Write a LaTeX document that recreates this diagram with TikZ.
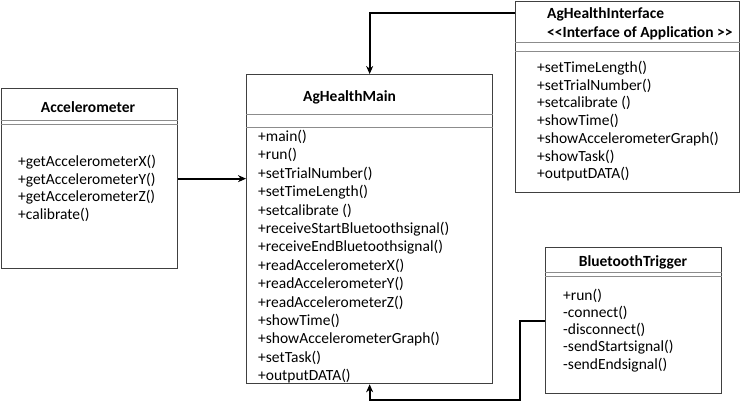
\documentclass[tikz,border=0pt]{standalone}
\usepackage{fontspec}
\setmainfont{Carlito}
\usetikzlibrary{arrows.meta}

\definecolor{boxgray}{HTML}{404040}
\definecolor{linegray}{HTML}{8C8C8C}
\newcommand\umlfont{\fontsize{15.5}{18}\selectfont}

\tikzset{
  classbox/.style={draw=boxgray, line width=1.3pt, inner sep=0pt, anchor=north west},
  sepline/.style={draw=linegray, line width=1pt},
  classname/.style={font=\umlfont\bfseries, inner sep=0pt},
  method/.style={anchor=west, inner sep=0pt},
  link/.style={draw=black, line width=1.8pt, -{Stealth[length=8pt,width=7pt]}}
}

\begin{document}
\begin{tikzpicture}[x=1pt, y=-1pt, font=\umlfont]
  \useasboundingbox (0,0) rectangle (740,402);

  % Accelerometer
  \node[classbox, minimum width=176pt, minimum height=180pt] (accel) at (0.7,88) {};
  \node[classname] (accelname) at (88,107) {Accelerometer};
  \draw[sepline] (accel.west |- 0,120) -- (accel.east |- 0,120);
  \draw[sepline] (accel.west |- 0,124) -- (accel.east |- 0,124);
  \foreach \m [count=\i] in {+getAccelerometerX(), +getAccelerometerY(),
      +getAccelerometerZ(), +calibrate()}
    \node[method] (accelm\i) at (18,{162+17.7*(\i-1)}) {\m};

  % AgHealthMain
  \node[classbox, minimum width=246pt, minimum height=309pt] (main) at (246,74) {};
  \node[classname, anchor=west] (mainname) at (303,97) {AgHealthMain};
  \draw[sepline] (main.west |- 0,114) -- (main.east |- 0,114);
  \draw[sepline] (main.west |- 0,127) -- (main.east |- 0,127);
  \foreach \m [count=\i] in {+main(), +run(), +setTrialNumber(), +setTimeLength(),
      +setcalibrate (), +receiveStartBluetoothsignal(), +receiveEndBluetoothsignal(),
      +readAccelerometerX(), +readAccelerometerY(), +readAccelerometerZ(),
      +showTime(), +showAccelerometerGraph(), +setTask(), +outputDATA()}
    \node[method] (mainm\i) at (258,{137+18.4*(\i-1)}) {\m};

  % AgHealthInterface
  \node[classbox, minimum width=224pt, minimum height=191pt] (iface) at (515,0.7) {};
  \node[classname, anchor=west] (ifacename) at (547,14) {AgHealthInterface};
  \node[classname, anchor=west] (ifacestereo) at (547,33)
    {<\kern0pt<Interface of Application >\kern0pt>};
  \draw[sepline] (iface.west |- 0,42) -- (iface.east |- 0,42);
  \draw[sepline] (iface.west |- 0,51) -- (iface.east |- 0,51);
  \foreach \m [count=\i] in {+setTimeLength(), +setTrialNumber(), +setcalibrate (),
      +showTime(), +showAccelerometerGraph(), +showTask(), +outputDATA()}
    \node[method] (ifacem\i) at (537,{68+17.7*(\i-1)}) {\m};

  % BluetoothTrigger
  \node[classbox, minimum width=176pt, minimum height=146pt] (bt) at (545,247) {};
  \node[classname] (btname) at (633,262) {BluetoothTrigger};
  \draw[sepline] (bt.west |- 0,272) -- (bt.east |- 0,272);
  \draw[sepline] (bt.west |- 0,276) -- (bt.east |- 0,276);
  \foreach \m [count=\i] in {+run(), -connect(), -disconnect(),
      -sendStartsignal(), -sendEndsignal()}
    \node[method] (btm\i) at (563,{296+17.2*(\i-1)}) {\m};

  % links
  \coordinate (bend) at (520,400);
  \draw[link] (accel.east) -- (accel.east -| main.west);
  \draw[link] ([yshift=-12pt]iface.north west) -| (main.north);
  \draw[link] (bt.west) -| (bend) -| (main.south);
\end{tikzpicture}
\end{document}
